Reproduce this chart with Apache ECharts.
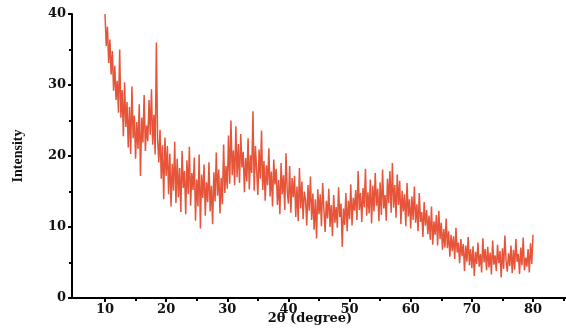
<!DOCTYPE html>
<html>
<head>
<meta charset="utf-8">
<script src="https://cdn.jsdelivr.net/npm/echarts@6/dist/echarts.min.js"></script>
<style>html,body{margin:0;padding:0;background:#fff;}#c{width:566px;height:333px;}</style>
</head>
<body>
<div id="c"></div>
<script>
// 2θ sampling: 10° to 80° in 0.2° steps
var thetaStart = 10;
var thetaStep = 0.2;
// intensity, five readings per degree
var intensity = [
40.0,35.5,38.2,33.1,36.4,
31.5,34.8,29.2,32.7,27.9,
30.6,26.1,35.0,25.4,29.3,
22.8,30.4,24.1,27.6,21.2,
26.9,20.3,29.8,22.5,25.7,
19.6,24.8,21.0,27.3,17.2,
25.4,21.9,28.6,20.7,24.3,
22.1,27.9,23.0,29.4,21.6,
25.8,20.2,36.0,22.4,19.1,
23.7,16.8,21.5,13.9,22.6,
17.2,21.4,14.6,20.3,12.9,
18.9,15.1,22.0,13.4,19.6,
14.2,18.3,12.1,20.7,15.5,
17.9,11.8,19.4,14.6,21.3,
13.0,17.6,15.2,19.8,10.9,
16.7,12.9,20.2,9.8,17.4,
14.1,18.8,11.6,16.3,13.5,
19.1,12.2,15.8,10.4,17.7,
13.6,20.5,14.4,18.1,11.9,
16.9,13.2,21.6,14.8,18.6,
15.4,22.9,16.1,25.0,17.3,
20.8,15.9,24.2,17.0,21.7,
16.2,23.1,18.4,20.6,14.9,
19.7,16.4,22.5,15.3,20.1,
17.6,26.3,15.1,21.4,18.0,
14.5,20.9,16.8,23.6,15.2,
19.3,13.7,18.7,15.9,21.1,
14.3,17.8,12.9,19.5,16.0,
18.2,13.1,16.6,11.8,19.0,
14.6,17.3,12.4,20.4,15.1,
13.3,18.6,12.0,16.9,14.2,
17.2,11.4,15.7,10.8,18.3,
12.6,16.4,11.1,15.0,13.8,
10.2,15.9,12.3,17.1,11.0,
14.7,9.6,13.9,8.4,15.3,
11.8,14.6,10.1,16.2,12.5,
9.3,13.7,11.2,15.4,10.0,
13.1,8.7,14.5,10.6,12.8,
9.9,15.6,11.4,13.3,7.2,
12.6,10.3,14.8,9.4,13.7,
11.1,16.0,10.2,14.1,12.3,
15.2,11.0,17.9,12.4,14.8,
10.7,15.5,12.8,18.2,11.6,
14.9,11.9,16.7,10.5,15.8,
12.2,17.6,13.0,15.4,10.8,
16.3,11.7,18.1,12.6,14.5,
10.9,16.8,13.4,17.9,12.0,
19.0,12.7,15.9,11.3,17.4,
13.1,16.5,10.4,15.1,12.2,
14.6,10.1,16.2,11.5,13.9,
9.8,14.3,11.0,15.7,10.6,
13.2,9.4,14.8,10.7,12.1,
8.6,13.5,10.2,12.4,9.0,
11.6,8.2,12.9,7.5,10.8,
8.9,11.7,7.4,12.3,8.3,
10.6,6.8,9.7,7.1,11.2,
7.0,9.4,5.8,8.9,6.6,
8.7,5.5,9.9,6.4,7.8,
4.9,8.3,5.9,7.6,3.8,
7.4,5.1,8.6,4.6,6.9,
4.2,7.3,3.1,6.5,4.8,
7.8,4.4,6.2,3.6,8.4,
5.0,6.9,3.9,7.2,4.3,
6.4,3.3,8.1,4.7,6.0,
3.8,7.5,4.9,6.6,2.9,
7.0,4.1,8.8,5.2,3.7,
6.3,4.5,7.4,3.5,6.8,
4.0,8.3,5.1,6.2,3.4,
7.1,4.6,8.5,3.9,5.7,
4.4,6.9,3.6,7.7,4.8,
8.9
];
var xMajorTicks = [10,20,30,40,50,60,70,80];
var xMinorTicks = [15,25,35,45,55,65,75,85];

var seriesData = intensity.map(function(v, i){
  return [Math.round((thetaStart + i*thetaStep)*10)/10, v];
});

var serif = '"DejaVu Serif", "Liberation Serif", serif';
var chart = echarts.init(document.getElementById('c'), null, {renderer:'canvas'});
chart.setOption({
  animation:false,
  backgroundColor:'#ffffff',
  grid:{left:72, right:0, top:14, bottom:35, outerBoundsMode:'none'},
  xAxis:[{
    type:'value', min:4.6, max:85.4,
    name:'2θ (degree)', nameLocation:'middle', nameGap:14, nameMoveOverlap:false,
    nameTextStyle:{fontFamily:serif, fontWeight:'bold', fontSize:13, color:'#111', padding:[0,18,0,0]},
    axisLine:{show:true, lineStyle:{color:'#000', width:2}},
    axisTick:{show:true, inside:false, length:4, lineStyle:{color:'#000', width:2}, customValues:xMajorTicks},
    axisLabel:{show:true, margin:5, fontFamily:serif, fontWeight:'bold', fontSize:13, color:'#111', customValues:xMajorTicks},
    splitLine:{show:false}
  },{
    type:'value', min:4.6, max:85.4, position:'bottom',
    axisLine:{show:false},
    axisTick:{show:true, length:3, lineStyle:{color:'#000', width:2}, customValues:xMinorTicks},
    axisLabel:{show:false},
    splitLine:{show:false}
  }],
  yAxis:{
    type:'value', min:0, max:40, interval:10,
    name:'Intensity', nameLocation:'middle', nameGap:47, nameMoveOverlap:false,
    nameTextStyle:{fontFamily:'"Liberation Serif", serif', fontWeight:'bold', fontSize:14, color:'#111'},
    axisLine:{show:true, lineStyle:{color:'#000', width:2}},
    axisTick:{show:true, length:4, lineStyle:{color:'#000', width:2}},
    minorTick:{show:true, splitNumber:2, length:3, lineStyle:{color:'#000', width:2}},
    axisLabel:{margin:6, fontFamily:serif, fontWeight:'bold', fontSize:13, color:'#111'},
    splitLine:{show:false}
  },
  series:[{
    type:'line', xAxisIndex:0, data:seriesData, showSymbol:false, symbol:'none',
    lineStyle:{color:'#E6553A', width:1.5}
  }]
});
</script>
</body>
</html>
